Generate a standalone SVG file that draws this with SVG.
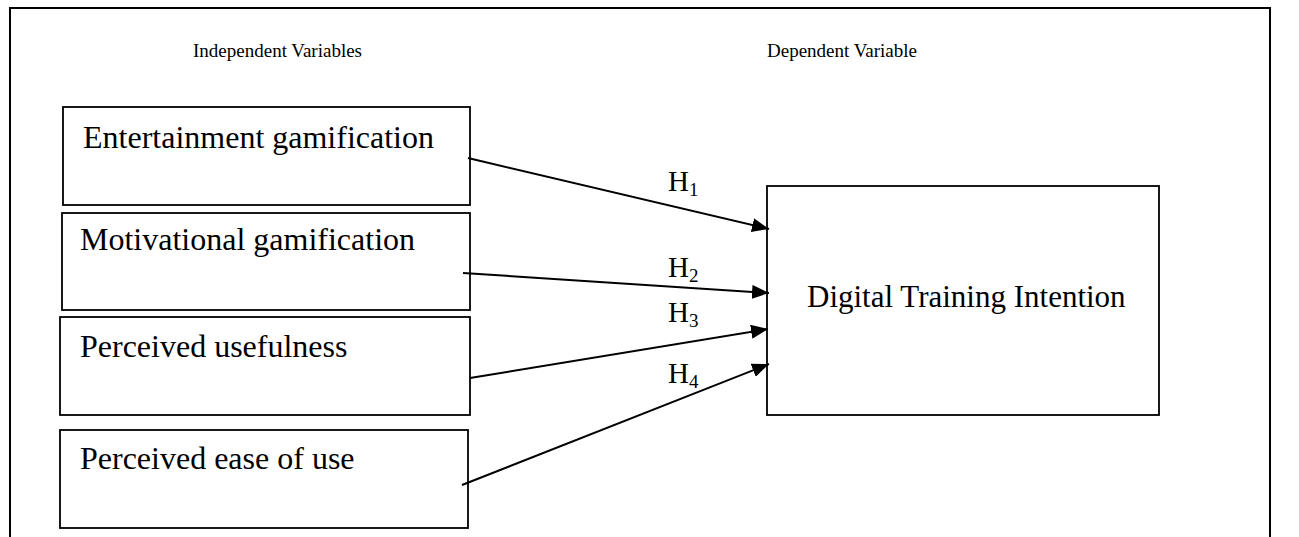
<svg xmlns="http://www.w3.org/2000/svg" width="1299" height="537" viewBox="0 0 1299 537">
  <style>
    .frame { fill: none; stroke: #000; stroke-width: 2; }
    .box { fill: #fff; stroke: #000; stroke-width: 1.8; }
    .head { font-family: "Liberation Serif", "Times New Roman", serif; font-size: 19px; fill: #000; }
    .lbl { font-family: "Liberation Serif", "Times New Roman", serif; font-size: 32px; fill: #000; }
    .hyp { font-family: "Liberation Serif", "Times New Roman", serif; font-size: 29px; fill: #000; }
    .sub { font-size: 19px; }
    .conn { fill: none; stroke: #000; stroke-width: 2; }
  </style>
  <defs>
    <marker id="arrow" markerUnits="userSpaceOnUse" markerWidth="18" markerHeight="14" refX="17" refY="7" orient="auto">
      <path d="M0,0 L17,7 L0,14 z" fill="#000"/>
    </marker>
  </defs>

  <rect width="1299" height="537" fill="#fff"/>

  <!-- open frame: top and sides only -->
  <path class="frame" d="M10,537 L10,8 L1270,8 L1270,537"/>

  <text class="head" x="193" y="57">Independent Variables</text>
  <text class="head" x="767" y="57">Dependent Variable</text>

  <g id="entertainment">
    <rect class="box" x="63" y="107" width="407" height="98"/>
    <text class="lbl" x="83" y="148">Entertainment gamification</text>
  </g>
  <g id="motivational">
    <rect class="box" x="62" y="213" width="408" height="97"/>
    <text class="lbl" x="80" y="250">Motivational gamification</text>
  </g>
  <g id="usefulness">
    <rect class="box" x="60" y="317" width="410" height="98"/>
    <text class="lbl" x="80" y="357">Perceived usefulness</text>
  </g>
  <g id="ease">
    <rect class="box" x="60" y="430" width="408" height="98"/>
    <text class="lbl" x="80" y="469">Perceived ease of use</text>
  </g>
  <g id="intention">
    <rect class="box" x="767" y="186" width="392" height="229"/>
    <text class="lbl" x="807" y="307" style="font-size:31px">Digital Training Intention</text>
  </g>

  <g id="connectors">
    <line class="conn" x1="468" y1="158" x2="769" y2="229" marker-end="url(#arrow)"/>
    <line class="conn" x1="463" y1="273" x2="769" y2="293" marker-end="url(#arrow)"/>
    <line class="conn" x1="470" y1="378" x2="768" y2="329" marker-end="url(#arrow)"/>
    <line class="conn" x1="462" y1="485" x2="769" y2="364" marker-end="url(#arrow)"/>
    <text class="hyp" x="668" y="191">H<tspan class="sub" dy="5">1</tspan></text>
    <text class="hyp" x="668" y="277">H<tspan class="sub" dy="5">2</tspan></text>
    <text class="hyp" x="668" y="322">H<tspan class="sub" dy="5">3</tspan></text>
    <text class="hyp" x="668" y="383">H<tspan class="sub" dy="5">4</tspan></text>
  </g>
</svg>
